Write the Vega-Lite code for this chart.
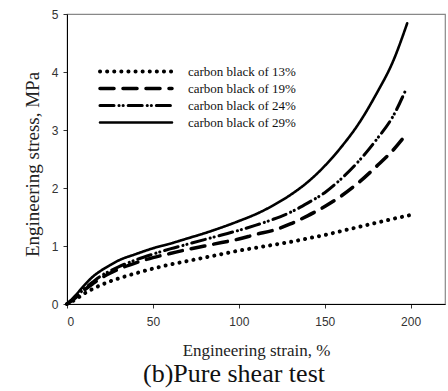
{
  "$schema": "https://vega.github.io/schema/vega-lite/v6.json",
  "width": 378,
  "height": 290,
  "autosize": {"type": "none"},
  "padding": {"left": 67, "top": 14, "right": 3, "bottom": 87},
  "background": "white",
  "config": {
    "view": {"stroke": "#888888", "strokeWidth": 1.2},
    "axis": {
      "grid": false,
      "domainColor": "#000000",
      "tickColor": "#333333",
      "tickSize": 4,
      "labelFont": "Liberation Sans",
      "labelFontSize": 12,
      "labelColor": "#333333",
      "titleFont": "Liberation Serif",
      "titleFontWeight": "normal",
      "titleColor": "#222222"
    },
    "legend": {"labelFont": "Liberation Serif", "labelFontSize": 13, "labelColor": "#111111"}
  },
  "title": {
    "text": "(b)Pure shear test",
    "orient": "bottom",
    "font": "Liberation Serif",
    "fontSize": 26,
    "fontWeight": "normal",
    "color": "#111111",
    "offset": 3,
    "dx": -22
  },
  "data": {
    "values": [
      {"series": "carbon black of 13%", "strain": 0, "stress": 0},
      {"series": "carbon black of 13%", "strain": 5, "stress": 0.08},
      {"series": "carbon black of 13%", "strain": 10, "stress": 0.18},
      {"series": "carbon black of 13%", "strain": 15, "stress": 0.26},
      {"series": "carbon black of 13%", "strain": 20, "stress": 0.33},
      {"series": "carbon black of 13%", "strain": 25, "stress": 0.39},
      {"series": "carbon black of 13%", "strain": 30, "stress": 0.44},
      {"series": "carbon black of 13%", "strain": 40, "stress": 0.53},
      {"series": "carbon black of 13%", "strain": 50, "stress": 0.61},
      {"series": "carbon black of 13%", "strain": 60, "stress": 0.68},
      {"series": "carbon black of 13%", "strain": 70, "stress": 0.74},
      {"series": "carbon black of 13%", "strain": 80, "stress": 0.8},
      {"series": "carbon black of 13%", "strain": 90, "stress": 0.86},
      {"series": "carbon black of 13%", "strain": 100, "stress": 0.92},
      {"series": "carbon black of 13%", "strain": 110, "stress": 0.97},
      {"series": "carbon black of 13%", "strain": 120, "stress": 1.02},
      {"series": "carbon black of 13%", "strain": 130, "stress": 1.07},
      {"series": "carbon black of 13%", "strain": 140, "stress": 1.13},
      {"series": "carbon black of 13%", "strain": 150, "stress": 1.19},
      {"series": "carbon black of 13%", "strain": 160, "stress": 1.26},
      {"series": "carbon black of 13%", "strain": 170, "stress": 1.33},
      {"series": "carbon black of 13%", "strain": 180, "stress": 1.4},
      {"series": "carbon black of 13%", "strain": 190, "stress": 1.47},
      {"series": "carbon black of 13%", "strain": 201, "stress": 1.54},
      {"series": "carbon black of 19%", "strain": 0, "stress": 0},
      {"series": "carbon black of 19%", "strain": 5, "stress": 0.11},
      {"series": "carbon black of 19%", "strain": 10, "stress": 0.24},
      {"series": "carbon black of 19%", "strain": 15, "stress": 0.35},
      {"series": "carbon black of 19%", "strain": 20, "stress": 0.45},
      {"series": "carbon black of 19%", "strain": 25, "stress": 0.53},
      {"series": "carbon black of 19%", "strain": 30, "stress": 0.6},
      {"series": "carbon black of 19%", "strain": 40, "stress": 0.71},
      {"series": "carbon black of 19%", "strain": 50, "stress": 0.8},
      {"series": "carbon black of 19%", "strain": 60, "stress": 0.87},
      {"series": "carbon black of 19%", "strain": 70, "stress": 0.94},
      {"series": "carbon black of 19%", "strain": 80, "stress": 1.0},
      {"series": "carbon black of 19%", "strain": 90, "stress": 1.06},
      {"series": "carbon black of 19%", "strain": 100, "stress": 1.12},
      {"series": "carbon black of 19%", "strain": 110, "stress": 1.2},
      {"series": "carbon black of 19%", "strain": 120, "stress": 1.27},
      {"series": "carbon black of 19%", "strain": 130, "stress": 1.38},
      {"series": "carbon black of 19%", "strain": 140, "stress": 1.52},
      {"series": "carbon black of 19%", "strain": 150, "stress": 1.68},
      {"series": "carbon black of 19%", "strain": 160, "stress": 1.87},
      {"series": "carbon black of 19%", "strain": 170, "stress": 2.1},
      {"series": "carbon black of 19%", "strain": 180, "stress": 2.37},
      {"series": "carbon black of 19%", "strain": 190, "stress": 2.66},
      {"series": "carbon black of 19%", "strain": 197, "stress": 2.91},
      {"series": "carbon black of 24%", "strain": 0, "stress": 0},
      {"series": "carbon black of 24%", "strain": 5, "stress": 0.12},
      {"series": "carbon black of 24%", "strain": 10, "stress": 0.26},
      {"series": "carbon black of 24%", "strain": 15, "stress": 0.38},
      {"series": "carbon black of 24%", "strain": 20, "stress": 0.49},
      {"series": "carbon black of 24%", "strain": 25, "stress": 0.57},
      {"series": "carbon black of 24%", "strain": 30, "stress": 0.64},
      {"series": "carbon black of 24%", "strain": 40, "stress": 0.76},
      {"series": "carbon black of 24%", "strain": 50, "stress": 0.86},
      {"series": "carbon black of 24%", "strain": 60, "stress": 0.95},
      {"series": "carbon black of 24%", "strain": 70, "stress": 1.03},
      {"series": "carbon black of 24%", "strain": 80, "stress": 1.11},
      {"series": "carbon black of 24%", "strain": 90, "stress": 1.19},
      {"series": "carbon black of 24%", "strain": 100, "stress": 1.27},
      {"series": "carbon black of 24%", "strain": 110, "stress": 1.36},
      {"series": "carbon black of 24%", "strain": 120, "stress": 1.46},
      {"series": "carbon black of 24%", "strain": 130, "stress": 1.58},
      {"series": "carbon black of 24%", "strain": 140, "stress": 1.74},
      {"series": "carbon black of 24%", "strain": 150, "stress": 1.92},
      {"series": "carbon black of 24%", "strain": 160, "stress": 2.17},
      {"series": "carbon black of 24%", "strain": 170, "stress": 2.47},
      {"series": "carbon black of 24%", "strain": 180, "stress": 2.83},
      {"series": "carbon black of 24%", "strain": 190, "stress": 3.25},
      {"series": "carbon black of 24%", "strain": 197, "stress": 3.68},
      {"series": "carbon black  of 29%", "strain": 0, "stress": 0},
      {"series": "carbon black  of 29%", "strain": 5, "stress": 0.15},
      {"series": "carbon black  of 29%", "strain": 10, "stress": 0.32},
      {"series": "carbon black  of 29%", "strain": 15, "stress": 0.47},
      {"series": "carbon black  of 29%", "strain": 20, "stress": 0.58},
      {"series": "carbon black  of 29%", "strain": 25, "stress": 0.67},
      {"series": "carbon black  of 29%", "strain": 30, "stress": 0.75},
      {"series": "carbon black  of 29%", "strain": 40, "stress": 0.86},
      {"series": "carbon black  of 29%", "strain": 50, "stress": 0.96},
      {"series": "carbon black  of 29%", "strain": 60, "stress": 1.04},
      {"series": "carbon black  of 29%", "strain": 70, "stress": 1.13},
      {"series": "carbon black  of 29%", "strain": 80, "stress": 1.22},
      {"series": "carbon black  of 29%", "strain": 90, "stress": 1.32},
      {"series": "carbon black  of 29%", "strain": 100, "stress": 1.43},
      {"series": "carbon black  of 29%", "strain": 110, "stress": 1.55},
      {"series": "carbon black  of 29%", "strain": 120, "stress": 1.7},
      {"series": "carbon black  of 29%", "strain": 130, "stress": 1.88},
      {"series": "carbon black  of 29%", "strain": 140, "stress": 2.1},
      {"series": "carbon black  of 29%", "strain": 150, "stress": 2.38},
      {"series": "carbon black  of 29%", "strain": 160, "stress": 2.72},
      {"series": "carbon black  of 29%", "strain": 170, "stress": 3.12},
      {"series": "carbon black  of 29%", "strain": 180, "stress": 3.62},
      {"series": "carbon black  of 29%", "strain": 190, "stress": 4.2},
      {"series": "carbon black  of 29%", "strain": 198, "stress": 4.84}
    ]
  },
  "mark": {"type": "line", "color": "#000000", "strokeCap": "round", "interpolate": "monotone"},
  "encoding": {
    "x": {
      "field": "strain", "type": "quantitative",
      "scale": {"domain": [0, 220], "nice": false, "zero": false},
      "axis": {"values": [0, 50, 100, 150, 200], "title": "Engineering strain, %", "titleFont": "Liberation Serif", "titleFontSize": 17, "labelPadding": 8, "titlePadding": 15}
    },
    "y": {
      "field": "stress", "type": "quantitative",
      "scale": {"domain": [0, 5], "nice": false},
      "axis": {"values": [0, 1, 2, 3, 4, 5], "title": "Engineering stress, MPa", "titleFont": "Liberation Serif", "titleFontSize": 19, "labelPadding": 5, "titlePadding": 9, "titleY": 150}
    },
    "strokeDash": {
      "field": "series", "type": "ordinal",
      "scale": {
        "domain": ["carbon black of 13%", "carbon black of 19%", "carbon black of 24%", "carbon black  of 29%"],
        "range": [[0.1, 7], [14, 9], [14, 5, 0.1, 4, 0.1, 5], [1, 0]]
      },
      "legend": {
        "title": null,
        "orient": "none",
        "legendX": 31,
        "legendY": 51,
        "symbolType": "stroke",
        "symbolSize": 5184,
        "clipHeight": 13,
        "symbolStrokeColor": "#000000",
        "labelFont": "Liberation Serif",
        "labelFontSize": 13,
        "labelColor": "#111111",
        "labelOffset": 14,
        "rowPadding": 3,
        "encode": {
          "symbols": {
            "update": {
              "strokeWidth": {"scale": "strokeWidth", "field": "value"},
              "strokeCap": {"value": "round"}
            }
          }
        }
      }
    },
    "strokeWidth": {
      "field": "series", "type": "ordinal",
      "scale": {
        "domain": ["carbon black of 13%", "carbon black of 19%", "carbon black of 24%", "carbon black  of 29%"],
        "range": [4, 2.6, 2.6, 2.2]
      },
      "legend": null
    }
  }
}
